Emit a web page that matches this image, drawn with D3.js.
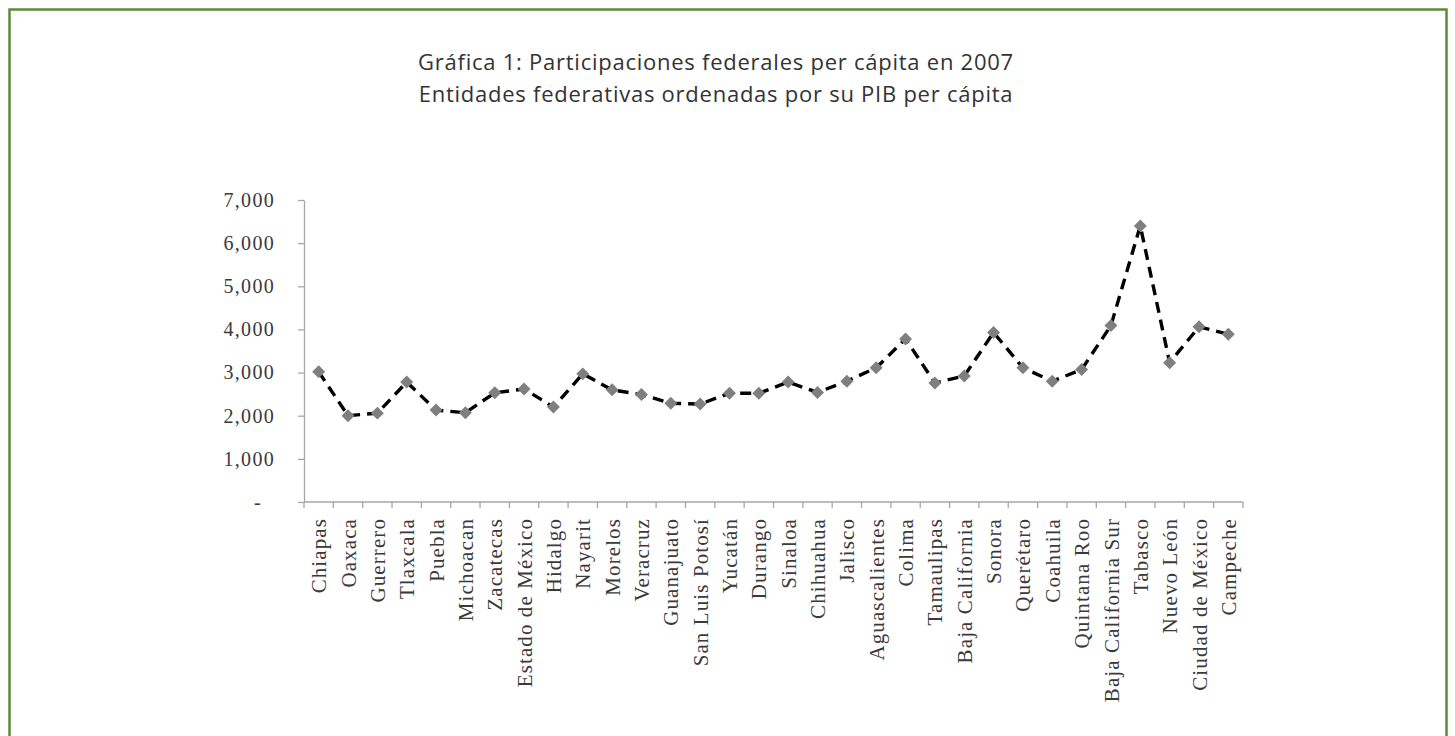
<!DOCTYPE html>
<html>
<head>
<meta charset="utf-8">
<script src="https://cdn.jsdelivr.net/npm/d3@7"></script>
<style>
  html, body { margin: 0; padding: 0; background: #ffffff; }
  svg { display: block; }
</style>
</head>
<body>
<svg id="chart" width="1455" height="736"></svg>
<script>
const titleLines = [
  "Gráfica 1: Participaciones federales per cápita en 2007",
  "Entidades federativas ordenadas por su PIB per cápita"
];
const categories = [
  "Chiapas", "Oaxaca", "Guerrero", "Tlaxcala", "Puebla", "Michoacan",
  "Zacatecas", "Estado de México", "Hidalgo", "Nayarit", "Morelos", "Veracruz",
  "Guanajuato", "San Luis Potosí", "Yucatán", "Durango", "Sinaloa", "Chihuahua",
  "Jalisco", "Aguascalientes", "Colima", "Tamaulipas", "Baja California", "Sonora",
  "Querétaro", "Coahuila", "Quintana Roo", "Baja California Sur", "Tabasco",
  "Nuevo León", "Ciudad de México", "Campeche"
];
const values = [
  3020, 2000, 2060, 2780, 2130, 2070,
  2530, 2620, 2200, 2970, 2600, 2490,
  2290, 2270, 2520, 2520, 2780, 2540,
  2800, 3110, 3780, 2760, 2920, 3930,
  3110, 2800, 3070, 4090, 6400,
  3230, 4060, 3890
];
const yTicks = [0, 1000, 2000, 3000, 4000, 5000, 6000, 7000];

const svg = d3.select("#chart");

// green frame
svg.append("rect")
  .attr("x", 9.5).attr("y", 9.5)
  .attr("width", 1437).attr("height", 760)
  .attr("fill", "none")
  .attr("stroke", "#5a8a38")
  .attr("stroke-width", 2.5);

// title
svg.append("g").selectAll("text")
  .data(titleLines)
  .join("text")
  .attr("x", 716)
  .attr("y", (d, i) => 70 + i * 32)
  .attr("text-anchor", "middle")
  .attr("font-family", "'Open Sans', 'Noto Sans', sans-serif")
  .attr("font-size", 22)
  .attr("letter-spacing", 0.75)
  .attr("fill", "#333333")
  .text(d => d);

const mLeft = 304, mRight = 1243, mTop = 200, mBottom = 502;

const x = d3.scaleBand().domain(categories).range([mLeft, mRight]).padding(0);
const y = d3.scaleLinear().domain([0, 7000]).range([mBottom, mTop]);

const axisColor = "#a6a6a6";
const labelFont = "'Liberation Serif', 'Times New Roman', serif";

// y axis
const yAxis = d3.axisLeft(y)
  .tickValues(yTicks)
  .tickSize(6)
  .tickSizeOuter(0)
  .tickFormat(d => d === 0 ? "-" : d3.format(",")(d));
const gy = svg.append("g").attr("transform", `translate(${mLeft},0)`).call(yAxis);
gy.select(".domain").attr("stroke", axisColor).attr("stroke-width", 1.3);
gy.selectAll(".tick line").attr("stroke", axisColor).attr("stroke-width", 1.3);
gy.selectAll(".tick text")
  .attr("x", d => d === 0 ? -42 : -29)
  .attr("font-family", labelFont)
  .attr("font-size", 20)
  .attr("letter-spacing", 1.3)
  .attr("fill", "#3a3a3a");

// x axis (ticks between categories)
const gx = svg.append("g").attr("transform", `translate(0,${mBottom})`);
gx.append("line")
  .attr("x1", mLeft).attr("x2", mRight)
  .attr("stroke", axisColor).attr("stroke-width", 1.3);
const boundaries = categories.map(c => x(c)).concat([x(categories[categories.length - 1]) + x.bandwidth()]);
gx.selectAll("line.tk")
  .data(boundaries)
  .join("line")
  .attr("class", "tk")
  .attr("x1", d => d).attr("x2", d => d)
  .attr("y1", 0).attr("y2", 6)
  .attr("stroke", axisColor).attr("stroke-width", 1.3);
gx.selectAll("text")
  .data(categories)
  .join("text")
  .attr("transform", d => `translate(${x(d) + x.bandwidth() / 2},16) rotate(-90)`)
  .attr("dy", "0.36em")
  .attr("text-anchor", "end")
  .attr("font-family", labelFont)
  .attr("font-size", 21)
  .attr("letter-spacing", 1.1)
  .attr("fill", "#3a3a3a")
  .text(d => d);

// line
const pts = categories.map((c, i) => ({ c, v: values[i] }));
const line = d3.line()
  .x(d => x(d.c) + x.bandwidth() / 2)
  .y(d => y(d.v));
svg.append("path")
  .datum(pts)
  .attr("d", line)
  .attr("fill", "none")
  .attr("stroke", "#000000")
  .attr("stroke-width", 3.4)
  .attr("stroke-dasharray", "11,7");

// markers
const sym = d3.symbol().type(d3.symbolSquare).size(84);
svg.append("g").selectAll("path")
  .data(pts)
  .join("path")
  .attr("d", sym)
  .attr("transform", d => `translate(${x(d.c) + x.bandwidth() / 2},${y(d.v)}) rotate(45)`)
  .attr("fill", "#7f7f7f");
</script>
</body>
</html>
